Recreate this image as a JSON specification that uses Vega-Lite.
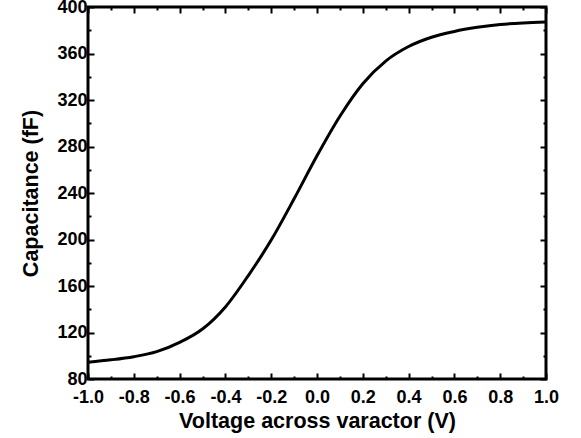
{
  "$schema": "https://vega.github.io/schema/vega-lite/v6.json",
  "width": 458,
  "height": 372,
  "autosize": {"type": "none"},
  "padding": {"left": 88, "top": 7, "right": 35, "bottom": 59},
  "background": "white",
  "config": {
    "view": {"stroke": "black", "strokeWidth": 3},
    "axis": {
      "labelFont": "Liberation Sans",
      "labelFontWeight": "bold",
      "labelFontSize": 18,
      "labelColor": "black",
      "titleFont": "Liberation Sans",
      "titleFontWeight": "bold",
      "titleFontSize": 21.5,
      "titleColor": "black",
      "domain": false,
      "grid": false,
      "tickColor": "black",
      "tickWidth": 2
    }
  },
  "data": {
    "values": [
      {"V": -1.0, "C": 94.5},
      {"V": -0.9, "C": 96.5},
      {"V": -0.8, "C": 99.2},
      {"V": -0.7, "C": 103.5},
      {"V": -0.6, "C": 111.5},
      {"V": -0.5, "C": 123},
      {"V": -0.4, "C": 142},
      {"V": -0.3, "C": 169},
      {"V": -0.2, "C": 199.5},
      {"V": -0.1, "C": 235},
      {"V": 0.0, "C": 272},
      {"V": 0.1, "C": 306},
      {"V": 0.2, "C": 334},
      {"V": 0.3, "C": 353.5},
      {"V": 0.4, "C": 366},
      {"V": 0.5, "C": 374},
      {"V": 0.6, "C": 379},
      {"V": 0.7, "C": 382.5},
      {"V": 0.8, "C": 385},
      {"V": 0.9, "C": 386.3},
      {"V": 1.0, "C": 387}
    ]
  },
  "resolve": {"scale": {"x": "independent", "y": "independent"}, "axis": {"x": "independent", "y": "independent"}},
  "layer": [
    {
      "mark": {"type": "line", "color": "black", "strokeWidth": 3, "interpolate": "monotone", "clip": true},
      "encoding": {
        "x": {
          "field": "V", "type": "quantitative",
          "scale": {"domain": [-1, 1], "nice": false, "zero": false},
          "axis": {
            "orient": "bottom",
            "title": "Voltage across varactor (V)",
            "values": [-1, -0.9, -0.8, -0.7, -0.6, -0.5, -0.4, -0.3, -0.2, -0.1, 0, 0.1, 0.2, 0.3, 0.4, 0.5, 0.6, 0.7, 0.8, 0.9, 1],
            "labelExpr": "abs(round(datum.value*10)) % 2 == 0 ? ['', (datum.value < 0 ? '-' : '') + format(abs(datum.value), '.1f')] : ''",
            "labelLineHeight": 7,
            "tickSize": {"condition": {"test": "abs(round(datum.value*10)) % 2 == 0", "value": -6}, "value": -3},
            "labelPadding": 8,
            "titlePadding": 4,
            "labelFlush": false,
            "labelOverlap": false
          }
        },
        "y": {
          "field": "C", "type": "quantitative",
          "scale": {"domain": [80, 400], "nice": false, "zero": false},
          "axis": {
            "orient": "left",
            "title": "Capacitance (fF)",
            "values": [80, 100, 120, 140, 160, 180, 200, 220, 240, 260, 280, 300, 320, 340, 360, 380, 400],
            "labelExpr": "datum.value % 40 == 0 ? datum.label + '\u00a0\u00a0' : ''",
            "tickSize": {"condition": {"test": "datum.value % 40 == 0", "value": -6}, "value": -3},
            "labelPadding": 7,
            "titlePadding": 14,
            "labelFlush": false,
            "labelOverlap": false
          }
        }
      }
    },
    {
      "mark": {"type": "line", "strokeOpacity": 0},
      "encoding": {
        "x": {"field": "V", "type": "quantitative", "scale": {"domain": [-1, 1], "nice": false, "zero": false},
          "axis": {"orient": "top", "title": null, "labels": false,
            "values": [-1, -0.9, -0.8, -0.7, -0.6, -0.5, -0.4, -0.3, -0.2, -0.1, 0, 0.1, 0.2, 0.3, 0.4, 0.5, 0.6, 0.7, 0.8, 0.9, 1],
            "tickSize": {"condition": {"test": "abs(round(datum.value*10)) % 2 == 0", "value": -6}, "value": -3}}},
        "y": {"field": "C", "type": "quantitative", "scale": {"domain": [80, 400], "nice": false, "zero": false},
          "axis": {"orient": "right", "title": null, "labels": false,
            "values": [80, 100, 120, 140, 160, 180, 200, 220, 240, 260, 280, 300, 320, 340, 360, 380, 400],
            "tickSize": {"condition": {"test": "datum.value % 40 == 0", "value": -6}, "value": -3}}}
      }
    }
  ]
}
